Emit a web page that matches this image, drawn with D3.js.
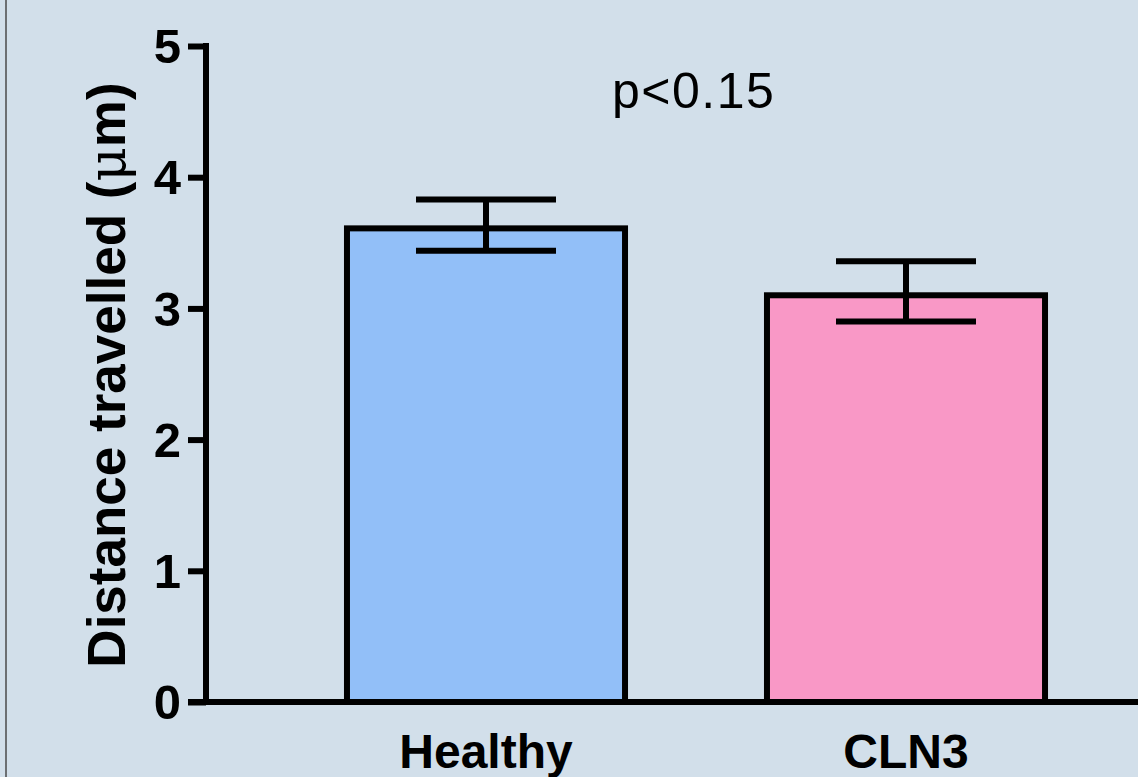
<!DOCTYPE html>
<html>
<head>
<meta charset="utf-8">
<script src="https://cdn.jsdelivr.net/npm/d3@7"></script>
<style>
  html, body { margin: 0; padding: 0; background: #d2dfea; }
  svg { display: block; }
  text { font-family: "Liberation Sans", Arial, sans-serif; fill: #000; }
</style>
</head>
<body>
<svg id="chart" width="1138" height="777"></svg>
<script>
// ---- data ----
const categories = ["Healthy", "CLN3"];
const means = [3.61, 3.10];
const errLower = [3.44, 2.90];
const errUpper = [3.83, 3.36];
const barColors = ["#92bff8", "#f998c6"];
const yTicks = [0, 1, 2, 3, 4, 5];
const yLabel = "Distance travelled (";
const yUnit = "\u03bc";
const yLabelEnd = "m)";
const annotation = "p<0.15";

const W = 1138, H = 777;
const svg = d3.select("#chart");

svg.append("rect").attr("width", W).attr("height", H).attr("fill", "#d2dfea");
// left frame line
svg.append("line").attr("x1", 6).attr("x2", 6).attr("y1", 0).attr("y2", H)
  .attr("stroke", "#4a4a4a").attr("stroke-width", 1.5);

const y = d3.scaleLinear().domain([0, 5]).range([702, 46]);
const x = d3.scaleBand().domain(categories).range([276, 1116])
  .paddingInner(0.338).paddingOuter(0.169);

const axisX0 = 206;
const SW = 6;

// bars
svg.selectAll("rect.bar").data(categories).join("rect")
  .attr("class", "bar")
  .attr("x", d => x(d))
  .attr("width", x.bandwidth())
  .attr("y", (d, i) => y(means[i]))
  .attr("height", (d, i) => y(0) - y(means[i]))
  .attr("fill", (d, i) => barColors[i])
  .attr("stroke", "#000")
  .attr("stroke-width", SW);

// error bars
const capHalf = 70;
const eb = svg.selectAll("g.err").data(categories).join("g").attr("class", "err");
eb.append("line")
  .attr("x1", d => x(d) + x.bandwidth() / 2)
  .attr("x2", d => x(d) + x.bandwidth() / 2)
  .attr("y1", (d, i) => y(errLower[i]))
  .attr("y2", (d, i) => y(errUpper[i]))
  .attr("stroke", "#000").attr("stroke-width", SW);
eb.append("line")
  .attr("x1", d => x(d) + x.bandwidth() / 2 - capHalf)
  .attr("x2", d => x(d) + x.bandwidth() / 2 + capHalf)
  .attr("y1", (d, i) => y(errUpper[i]))
  .attr("y2", (d, i) => y(errUpper[i]))
  .attr("stroke", "#000").attr("stroke-width", SW);
eb.append("line")
  .attr("x1", d => x(d) + x.bandwidth() / 2 - capHalf)
  .attr("x2", d => x(d) + x.bandwidth() / 2 + capHalf)
  .attr("y1", (d, i) => y(errLower[i]))
  .attr("y2", (d, i) => y(errLower[i]))
  .attr("stroke", "#000").attr("stroke-width", SW);

// y axis
const gy = svg.append("g").attr("transform", `translate(${axisX0},0)`)
  .call(d3.axisLeft(y).tickValues(yTicks).tickFormat(d3.format("d"))
    .tickSize(18).tickSizeOuter(0).tickPadding(7));
gy.select(".domain").attr("stroke", "#000").attr("stroke-width", SW)
  .attr("d", `M0,${y(5) - SW/2}V${y(0)}`);
gy.selectAll(".tick line").attr("stroke", "#000").attr("stroke-width", SW);
gy.selectAll(".tick text").attr("font-size", 49).attr("font-weight", "bold")
  .attr("font-family", "Liberation Sans, Arial, sans-serif").attr("fill", "#000")
  .attr("dy", "0.34em");

// x axis
const gx = svg.append("g").attr("transform", `translate(0,${y(0)})`)
  .call(d3.axisBottom(x).tickSize(0).tickPadding(32));
gx.select(".domain").attr("stroke", "#000").attr("stroke-width", SW)
  .attr("d", `M${axisX0 - 18},0H${W}`);
gx.selectAll(".tick text").attr("font-size", 48).attr("font-weight", "bold")
  .attr("font-family", "Liberation Sans, Arial, sans-serif").attr("fill", "#000");

// y label
const yl = svg.append("text")
  .attr("transform", "translate(125,375) rotate(-90)")
  .attr("text-anchor", "middle")
  .attr("font-size", 53).attr("font-weight", "bold");
yl.append("tspan").text(yLabel);
yl.append("tspan").attr("font-weight", "normal").attr("font-family", "DejaVu Serif, serif").text(yUnit);
yl.append("tspan").text(yLabelEnd);

// annotation
svg.append("text").attr("x", 612).attr("y", 108)
  .attr("font-size", 50).attr("letter-spacing", 1.5)
  .text(annotation);
</script>
</body>
</html>
